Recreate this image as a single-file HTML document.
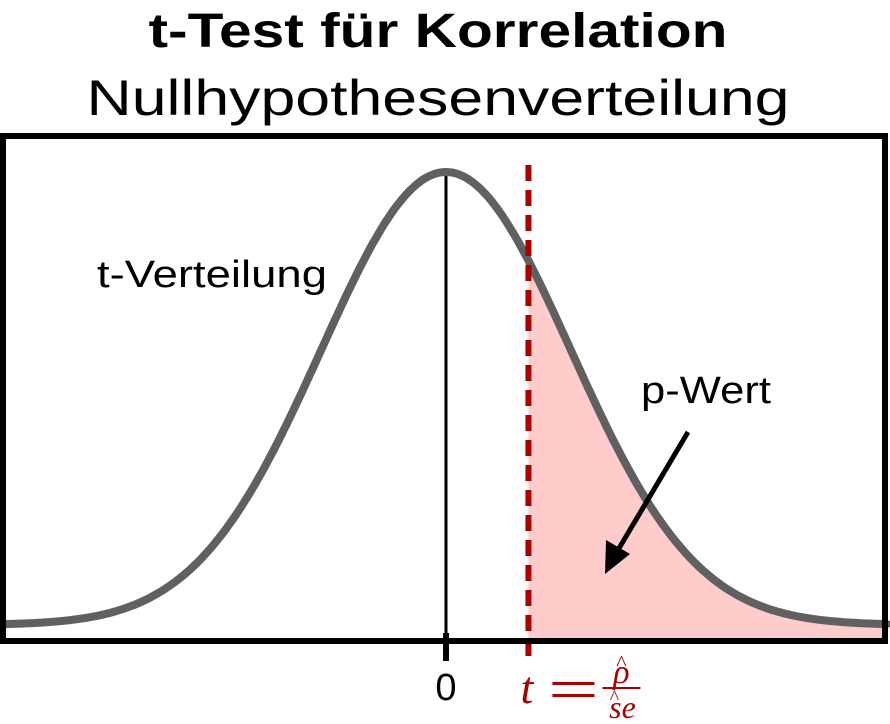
<!DOCTYPE html>
<html><head><meta charset="utf-8"><style>body{margin:0;background:#fff}svg{display:block}</style></head>
<body>
<svg id="c" width="890" height="724" xmlns="http://www.w3.org/2000/svg">
<text x="438" y="47" text-anchor="middle" font-family="Liberation Sans, sans-serif" font-weight="bold" font-size="48" textLength="579" lengthAdjust="spacingAndGlyphs">t-Test für Korrelation</text>
<text x="438" y="115" text-anchor="middle" font-family="Liberation Sans, sans-serif" font-size="50" textLength="703" lengthAdjust="spacingAndGlyphs">Nullhypothesenverteilung</text>
<g id="plot"></g>
<rect x="3" y="136" width="882" height="505" fill="none" stroke="#000" stroke-width="6"/>
<text x="97" y="287" font-family="Liberation Sans, sans-serif" font-size="38" textLength="230" lengthAdjust="spacingAndGlyphs">t-Verteilung</text>
<text x="641" y="403" font-family="Liberation Sans, sans-serif" font-size="38" textLength="130" lengthAdjust="spacingAndGlyphs">p-Wert</text>
<line x1="688" y1="432" x2="618" y2="550" stroke="#000" stroke-width="5"/>
<polygon points="605,574 606,540 630,554" fill="#000"/>
<g id="labels"></g>
</svg>
<script>
const xDomain = [-3.57, 3.53];
const meanValue = [0];
const sdValue = [1];
const tValue = [0.66];
const tickValues = [0];
const tickLabels = ["0"];
const NS = "http://www.w3.org/2000/svg";
const px0 = 0, px1 = 887, yBase = 625, yPeak = 172;
function xs(v){return px0 + (v - xDomain[0])/(xDomain[1]-xDomain[0])*(px1-px0);}
function dens(v){const z=(v-meanValue[0])/sdValue[0];return Math.exp(-z*z/2);}
function ys(d){return yBase - d*(yBase-yPeak);}
const plot = document.getElementById('plot');
function mk(tag, attrs){const e=document.createElementNS(NS,tag);for(const k in attrs)e.setAttribute(k,attrs[k]);return e;}
let fp = "M"+xs(tValue[0])+","+yBase;
for(let i=0;i<=200;i++){const v=tValue[0]+(xDomain[1]-tValue[0])*i/200;fp+=" L"+xs(v).toFixed(1)+","+ys(dens(v)).toFixed(1);}
fp += " L"+xs(xDomain[1])+","+(yBase+13)+" L"+xs(tValue[0])+","+(yBase+13)+"Z";
const fill = mk('path',{d:fp,fill:'#ffcccc'});


plot.appendChild(fill);
const zl = mk('line',{x1:xs(0),x2:xs(0),y1:ys(dens(0)),y2:639,stroke:'#000','stroke-width':3});


plot.appendChild(zl);
let cp="";
for(let i=0;i<=400;i++){const v=xDomain[0]+(xDomain[1]-xDomain[0])*i/400;cp+=(i?" L":"M")+xs(v).toFixed(1)+","+ys(dens(v)).toFixed(1);}
const curve = mk('path',{d:cp,fill:'none',stroke:'#606060','stroke-width':8,'stroke-linecap':'round'});


plot.appendChild(curve);
const tl = mk('line',{x1:xs(tValue[0]),x2:xs(tValue[0]),y1:165,y2:663,stroke:'#aa0000','stroke-width':6,'stroke-dasharray':'16,9'});


plot.appendChild(tl);
const lab = document.getElementById('labels');
tickValues.forEach((v,i)=>{
  const tk = mk('line',{x1:xs(v),x2:xs(v),y1:633,y2:661,stroke:'#000','stroke-width':6});
  
  
  lab.appendChild(tk);
  const t = mk('text',{x:xs(v),y:700,'text-anchor':'middle','font-family':'Liberation Sans, sans-serif','font-size':38});
  t.textContent = tickLabels[i];
  
  
  lab.appendChild(t);
});
const tx = xs(tValue[0]);
const g = mk('g',{fill:'#aa0000','font-family':'Liberation Serif, serif','font-style':'italic'});


g.innerHTML = '<text x="'+(tx-8)+'" y="703" font-size="46">t</text>'+
 '<rect x="'+(tx+24)+'" y="682" width="42" height="3"/>'+
 '<rect x="'+(tx+24)+'" y="694" width="42" height="3"/>'+
 '<text x="'+(tx+93)+'" y="683" font-size="34" text-anchor="middle">ρ</text>'+
 '<text x="'+(tx+93)+'" y="670" font-size="22" font-style="normal" text-anchor="middle">^</text>'+
 '<rect x="'+(tx+74)+'" y="687" width="38" height="2"/>'+
 '<text x="'+(tx+94)+'" y="718" font-size="32" text-anchor="middle">se</text>'+
 '<text x="'+(tx+86)+'" y="704" font-size="20" font-style="normal" text-anchor="middle">^</text>';
lab.appendChild(g);
</script>
</body></html>
